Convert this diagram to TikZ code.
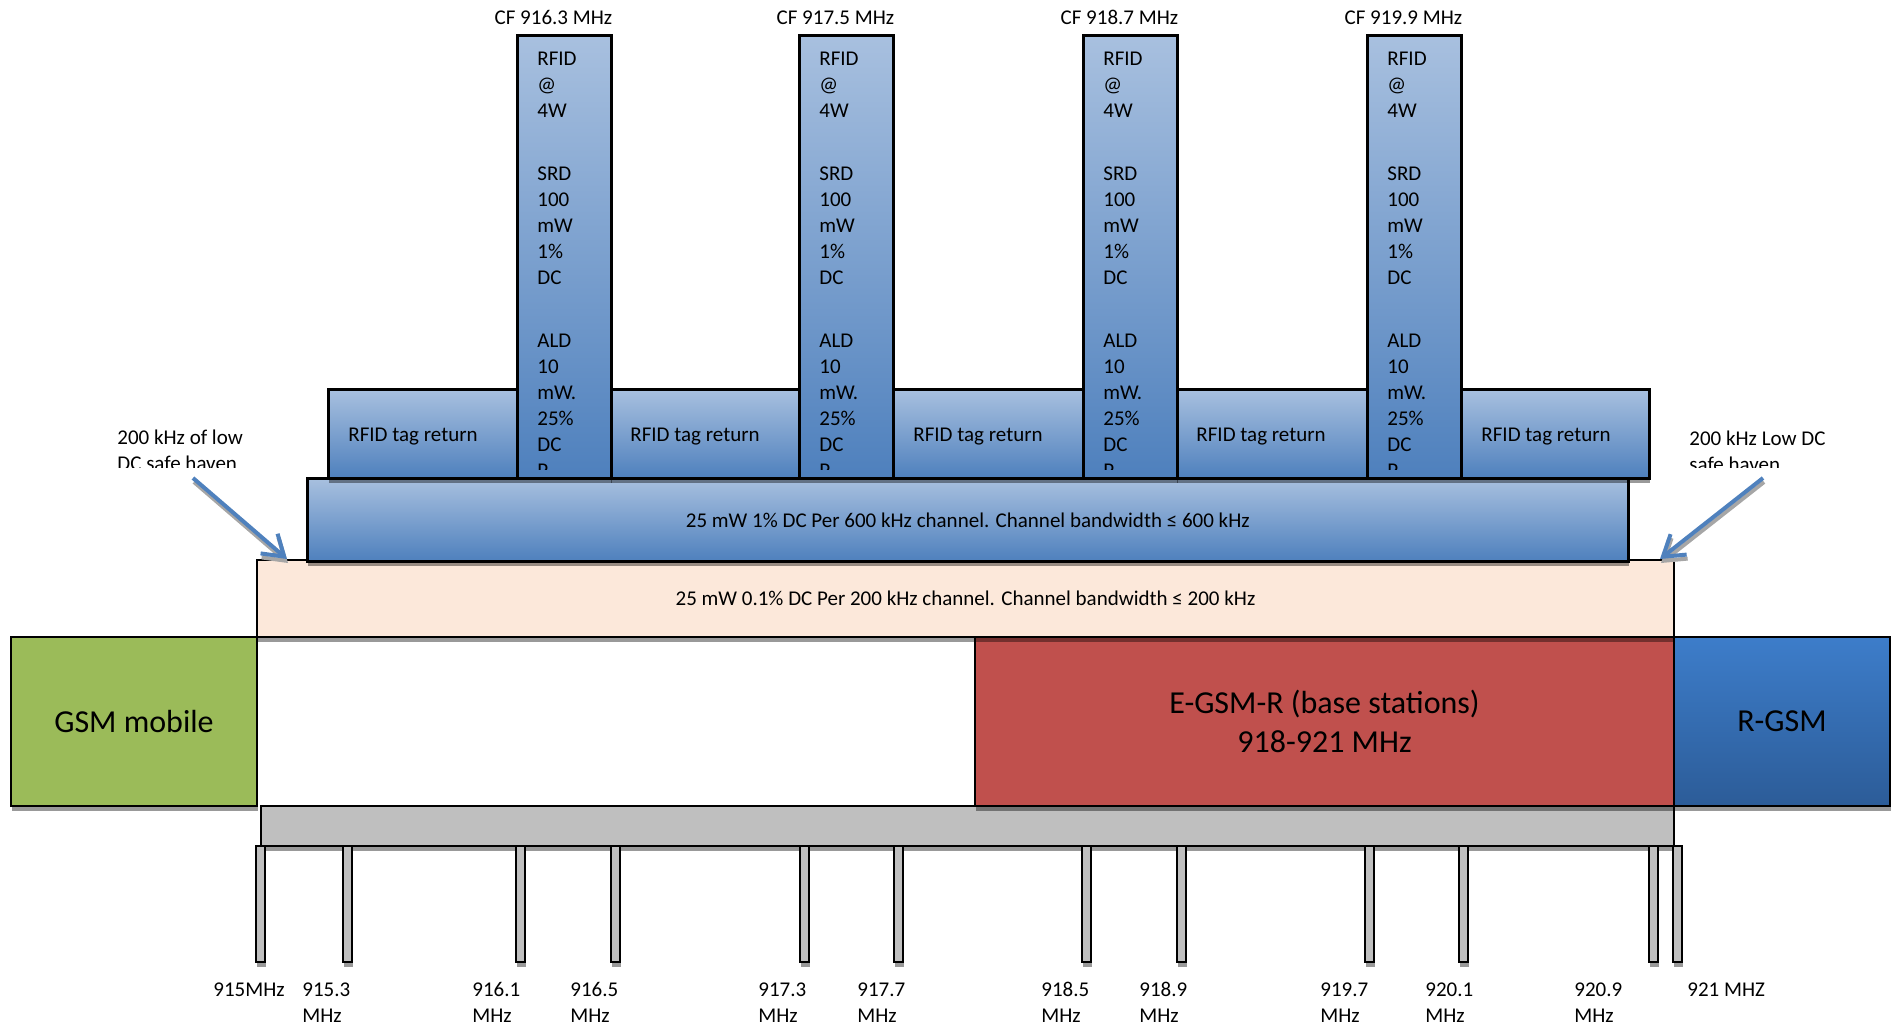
\documentclass[tikz,border=0pt]{standalone}
\usepackage{fontspec}
\setmainfont{Carlito}
\usetikzlibrary{positioning, shadows, arrows.meta}
\newlength{\unitpx}
\setlength{\unitpx}{0.5pt}
\definecolor{bluetop}{HTML}{A8C0DF}
\definecolor{bluebot}{HTML}{4E80BD}
\definecolor{rgsmtop}{HTML}{3D7DCA}
\definecolor{rgsmbot}{HTML}{2C5C98}
\definecolor{egsmred}{HTML}{C0504D}
\definecolor{gsmgreen}{HTML}{9BBB59}
\definecolor{peach}{HTML}{FCE8DA}
\definecolor{rulergray}{HTML}{BFBFBF}
\definecolor{arrowblue}{HTML}{4F81BD}
\newcommand{\coltxt}{RFID\\@\\4W\\[18.5pt]SRD\\100\\mW\\1\%\\DC\\[18.5pt]ALD\\10\\mW.\\25\%\\DC\\P}
\tikzset{
  boxshadow/.style={
    drop shadow={shadow xshift=0.5pt, shadow yshift=-2.5pt, opacity=0.4, fill=black}
    },
  bandbox/.style={
    rectangle,
    anchor=north west,
    inner sep=0pt,
    draw=black,
    line width=1pt,
    boxshadow
    },
  bluebox/.style={
    bandbox,
    line width=1.3pt,
    top color=bluetop,
    bottom color=bluebot
    },
  chancol/.style={
    bluebox,
    minimum width=94\unitpx,
    minimum height=443\unitpx
    },
  tagbox/.style={
    bluebox,
    minimum height=89\unitpx
    },
  freqtick/.style={
    bandbox,
    anchor=north,
    fill=rulergray,
    minimum width=9\unitpx,
    minimum height=116\unitpx
    },
  smalltext/.style={
    inner sep=0pt,
    font=\fontsize{10.5}{13}\selectfont
    },
  coltext/.style={smalltext, anchor=north west, align=left},
  taglabel/.style={smalltext, anchor=base west},
  ticklabel/.style={smalltext, anchor=north west, align=left},
  bigtext/.style={font=\fontsize{16}{19.5}\selectfont, align=center},
  callout/.style={
    line width=2pt,
    draw=arrowblue,
    -{Straight Barb[length=10pt, width=13pt]}
    },
  calloutshadow/.style={
    callout,
    draw=black!35,
    transform canvas={xshift=0.5pt, yshift=-2pt}
    }
}

\begin{document}
\begin{tikzpicture}[x=0.5pt, y=-0.5pt]
\path[use as bounding box] (0,0) rectangle (1895,1024);
\clip (0,0) rectangle (1895,1024);
% frequency ruler
\node (ruler) [bandbox, fill=rulergray, minimum width=1413\unitpx, minimum height=40\unitpx] at (260,805) {};
\node (tick1) [freqtick] at (260,845) {};
\node (tick2) [freqtick] at (347,845) {};
\node (tick3) [freqtick] at (520,845) {};
\node (tick4) [freqtick] at (615,845) {};
\node (tick5) [freqtick] at (804,845) {};
\node (tick6) [freqtick] at (898,845) {};
\node (tick7) [freqtick] at (1086,845) {};
\node (tick8) [freqtick] at (1181,845) {};
\node (tick9) [freqtick] at (1369,845) {};
\node (tick10) [freqtick] at (1463,845) {};
\node (tick11) [freqtick] at (1653,845) {};
\node (tick12) [freqtick] at (1677,845) {};
\node (lab1) [ticklabel] at (213,982) {915MHz};
\node (lab2) [ticklabel] at (302,982) {915.3\\MHz};
\node (lab3) [ticklabel] at (472,982) {916.1\\MHz};
\node (lab4) [ticklabel] at (570,982) {916.5\\MHz};
\node (lab5) [ticklabel] at (758,982) {917.3\\MHz};
\node (lab6) [ticklabel] at (857,982) {917.7\\MHz};
\node (lab7) [ticklabel] at (1041,982) {918.5\\MHz};
\node (lab8) [ticklabel] at (1139,982) {918.9\\MHz};
\node (lab9) [ticklabel] at (1320,982) {919.7\\MHz};
\node (lab10) [ticklabel] at (1425,982) {920.1\\MHz};
\node (lab11) [ticklabel] at (1574,982) {920.9\\MHz};
\node (lab12) [ticklabel] at (1687,982) {921 MHZ};
% mobile bands
\node (gsm) [bandbox, bigtext, fill=gsmgreen, minimum width=246\unitpx, minimum height=169\unitpx] at (10,636) {GSM mobile};
\node (egsm) [bandbox, bigtext, fill=egsmred, minimum width=699\unitpx, minimum height=169\unitpx] at (974,636) {E-GSM-R (base stations)\\918-921 MHz};
\node (rgsm) [bandbox, bigtext, top color=rgsmtop, bottom color=rgsmbot, minimum width=216\unitpx, minimum height=169\unitpx] at (1673,636) {R-GSM};
% SRD bands
\node (band200) [bandbox, smalltext, fill=peach, minimum width=1417\unitpx, minimum height=77\unitpx] at (256,559) {25 mW 0.1\% DC Per 200 kHz channel. Channel bandwidth ≤ 200 kHz};
\node (band600) [bluebox, smalltext, minimum width=1321\unitpx, minimum height=83\unitpx] at (306,477) {25 mW 1\% DC Per 600 kHz channel. Channel bandwidth ≤ 600 kHz};
\node (tag1) [tagbox, minimum width=189\unitpx] at (327,388) {};
\node (tag2) [tagbox, minimum width=189\unitpx] at (609,388) {};
\node (tag3) [tagbox, minimum width=190\unitpx] at (892,388) {};
\node (tag4) [tagbox, minimum width=191\unitpx] at (1175,388) {};
\node (tag5) [tagbox, minimum width=188\unitpx] at (1460,388) {};
\node (tag1txt) [taglabel] at ([xshift=10.5pt, yshift=-3.75pt]tag1.west) {RFID tag return};
\node (tag2txt) [taglabel] at ([xshift=10.5pt, yshift=-3.75pt]tag2.west) {RFID tag return};
\node (tag3txt) [taglabel] at ([xshift=10.5pt, yshift=-3.75pt]tag3.west) {RFID tag return};
\node (tag4txt) [taglabel] at ([xshift=10.5pt, yshift=-3.75pt]tag4.west) {RFID tag return};
\node (tag5txt) [taglabel] at ([xshift=10.5pt, yshift=-3.75pt]tag5.west) {RFID tag return};
% RFID channels
\node (col1) [chancol] at (516,34) {};
\node (col2) [chancol] at (798,34) {};
\node (col3) [chancol] at (1082,34) {};
\node (col4) [chancol] at (1366,34) {};
\node (cf1) [smalltext, anchor=base east] at ([yshift=5pt]col1.north east) {CF 916.3 MHz};
\node (cf2) [smalltext, anchor=base east] at ([yshift=5pt]col2.north east) {CF 917.5 MHz};
\node (cf3) [smalltext, anchor=base east] at ([yshift=5pt]col3.north east) {CF 918.7 MHz};
\node (cf4) [smalltext, anchor=base east] at ([yshift=5pt]col4.north east) {CF 919.9 MHz};
\begin{scope}
\clip (col1.north west) rectangle ([yshift=5pt]col1.south east);
\node (col1txt) [coltext] at ([xshift=10.5pt, yshift=-9pt]col1.north west) {\coltxt};
\end{scope}
\begin{scope}
\clip (col2.north west) rectangle ([yshift=5pt]col2.south east);
\node (col2txt) [coltext] at ([xshift=10.5pt, yshift=-9pt]col2.north west) {\coltxt};
\end{scope}
\begin{scope}
\clip (col3.north west) rectangle ([yshift=5pt]col3.south east);
\node (col3txt) [coltext] at ([xshift=10.5pt, yshift=-9pt]col3.north west) {\coltxt};
\end{scope}
\begin{scope}
\clip (col4.north west) rectangle ([yshift=5pt]col4.south east);
\node (col4txt) [coltext] at ([xshift=10.5pt, yshift=-9pt]col4.north west) {\coltxt};
\end{scope}
% safe haven notes
\begin{scope}
\clip (100,415) rectangle (400,467);
\node (noteleft) [smalltext, anchor=north west, align=left] at (117,430) {200 kHz of low\\DC safe haven};
\end{scope}
\begin{scope}
\clip (1680,415) rectangle (1895,467);
\node (noteright) [smalltext, anchor=north west, align=left] at (1689,431) {200 kHz Low DC\\safe haven};
\end{scope}
\coordinate (lefttail) at (193,478);
\coordinate (lefttip) at ([xshift=15.5pt]band200.north west);
\coordinate (righttail) at (1763,478);
\coordinate (righttip) at ([xshift=-7.5pt]band200.north east);
\draw[calloutshadow] (lefttail) -- (lefttip);
\draw[callout] (lefttail) -- (lefttip);
\draw[calloutshadow] (righttail) -- (righttip);
\draw[callout] (righttail) -- (righttip);
\end{tikzpicture}
\end{document}
